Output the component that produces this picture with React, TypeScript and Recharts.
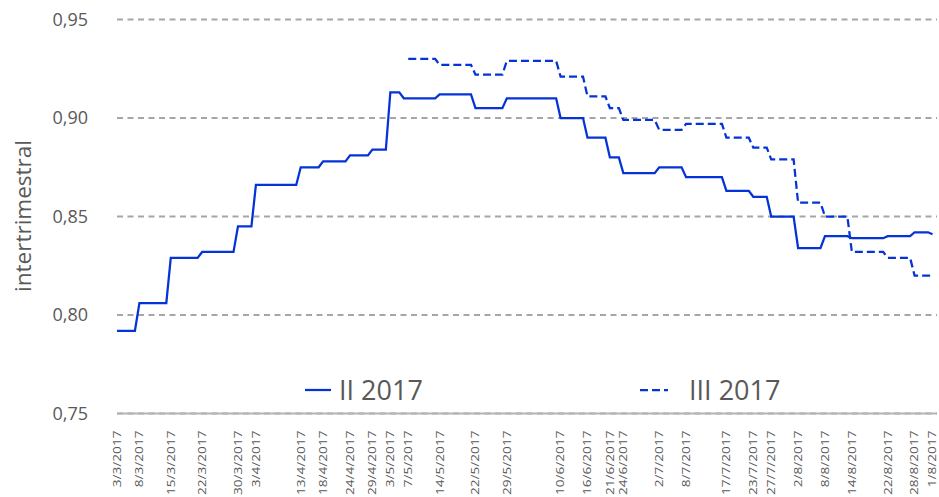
import { LineChart, Line, XAxis, YAxis, CartesianGrid, Legend } from "recharts";

// II 2017 - vertices of the step line (start of each level and its last day)
const iiDates = [
  "3/3/2017", "7/3/2017", "8/3/2017", "14/3/2017", "15/3/2017", "21/3/2017",
  "22/3/2017", "29/3/2017", "30/3/2017", "2/4/2017", "3/4/2017", "12/4/2017",
  "13/4/2017", "17/4/2017", "18/4/2017", "23/4/2017", "24/4/2017", "28/4/2017",
  "29/4/2017", "2/5/2017", "3/5/2017", "5/5/2017", "6/5/2017", "13/5/2017",
  "14/5/2017", "21/5/2017", "22/5/2017", "28/5/2017", "29/5/2017", "9/6/2017",
  "10/6/2017", "15/6/2017", "16/6/2017", "20/6/2017", "21/6/2017", "23/6/2017",
  "24/6/2017", "1/7/2017", "2/7/2017", "7/7/2017", "8/7/2017", "16/7/2017",
  "17/7/2017", "22/7/2017", "23/7/2017", "26/7/2017", "27/7/2017", "1/8/2017",
  "2/8/2017", "7/8/2017", "8/8/2017", "13/8/2017", "14/8/2017", "21/8/2017",
  "22/8/2017", "27/8/2017", "28/8/2017", "31/8/2017", "1/9/2017",
];
const iiValues = [
  0.792, 0.792, 0.806, 0.806, 0.829, 0.829,
  0.832, 0.832, 0.845, 0.845, 0.866, 0.866,
  0.875, 0.875, 0.878, 0.878, 0.881, 0.881,
  0.884, 0.884, 0.913, 0.913, 0.91, 0.91,
  0.912, 0.912, 0.905, 0.905, 0.91, 0.91,
  0.9, 0.9, 0.89, 0.89, 0.88, 0.88,
  0.872, 0.872, 0.875, 0.875, 0.87, 0.87,
  0.863, 0.863, 0.86, 0.86, 0.85, 0.85,
  0.834, 0.834, 0.84, 0.84, 0.839, 0.839,
  0.84, 0.84, 0.842, 0.842, 0.841,
];

// III 2017
const iiiDates = [
  "7/5/2017", "13/5/2017", "14/5/2017", "21/5/2017", "22/5/2017", "28/5/2017",
  "29/5/2017", "9/6/2017", "10/6/2017", "15/6/2017", "16/6/2017", "20/6/2017",
  "21/6/2017", "23/6/2017", "24/6/2017", "1/7/2017", "2/7/2017", "7/7/2017",
  "8/7/2017", "16/7/2017", "17/7/2017", "22/7/2017", "23/7/2017", "26/7/2017",
  "27/7/2017", "1/8/2017", "2/8/2017", "7/8/2017", "8/8/2017", "13/8/2017",
  "14/8/2017", "21/8/2017", "22/8/2017", "27/8/2017", "28/8/2017", "1/9/2017",
];
const iiiValues = [
  0.93, 0.93, 0.927, 0.927, 0.922, 0.922,
  0.929, 0.929, 0.921, 0.921, 0.911, 0.911,
  0.905, 0.905, 0.899, 0.899, 0.894, 0.894,
  0.897, 0.897, 0.89, 0.89, 0.885, 0.885,
  0.879, 0.879, 0.857, 0.857, 0.85, 0.85,
  0.832, 0.832, 0.829, 0.829, 0.82, 0.82,
];

const tickDates = [
  "3/3/2017", "8/3/2017", "15/3/2017", "22/3/2017", "30/3/2017", "3/4/2017",
  "13/4/2017", "18/4/2017", "24/4/2017", "29/4/2017", "3/5/2017", "7/5/2017",
  "14/5/2017", "22/5/2017", "29/5/2017", "10/6/2017", "16/6/2017", "21/6/2017",
  "24/6/2017", "2/7/2017", "8/7/2017", "17/7/2017", "23/7/2017", "27/7/2017",
  "2/8/2017", "8/8/2017", "14/8/2017", "22/8/2017", "28/8/2017", "1/9/2017",
];
const tickLabels = [
  "3/3/2017", "8/3/2017", "15/3/2017", "22/3/2017", "30/3/2017", "3/4/2017",
  "13/4/2017", "18/4/2017", "24/4/2017", "29/4/2017", "3/5/2017", "7/5/2017",
  "14/5/2017", "22/5/2017", "29/5/2017", "10/6/2017", "16/6/2017", "21/6/2017",
  "24/6/2017", "2/7/2017", "8/7/2017", "17/7/2017", "23/7/2017", "27/7/2017",
  "2/8/2017", "8/8/2017", "14/8/2017", "22/8/2017", "28/8/2017", "1/8/2017",
];
const yTicks = [0.75, 0.8, 0.85, 0.9, 0.95];

const BLUE = "#0433d6";
const GREY_TEXT = "#595959";
const GRID = "#a6a6a6";
const FONT = "'Open Sans', sans-serif";

// days since 3/3/2017
const dayOf = (s: string) => {
  const [d, m, y] = s.split("/").map(Number);
  return Math.round((Date.UTC(y, m - 1, d) - Date.UTC(2017, 2, 3)) / 86400000);
};

const rowMap: Record<number, any> = {};
iiDates.forEach((d, i) => {
  const k = dayOf(d);
  rowMap[k] = { ...(rowMap[k] || { day: k }), ii: iiValues[i] };
});
iiiDates.forEach((d, i) => {
  const k = dayOf(d);
  rowMap[k] = { ...(rowMap[k] || { day: k }), iii: iiiValues[i] };
});
const data = Object.values(rowMap).sort((a, b) => a.day - b.day);

const tickDays = tickDates.map(dayOf);

const DateTick = (props: any) => {
  const { x, y, payload } = props;
  const idx = tickDays.indexOf(payload.value);
  return (
    <text
      transform={`translate(${x},${y + 9}) rotate(-90) scale(1.3,1)`}
      textAnchor="end"
      dominantBaseline="central"
      fontSize={10.5}
      fontFamily={FONT}
      fill={GREY_TEXT}
    >
      {tickLabels[idx]}
    </text>
  );
};

const renderLegend = () => (
  <div style={{ position: "relative", width: 939, height: 32, fontFamily: FONT, fontSize: 27, color: GREY_TEXT }}>
    <svg width={30} height={32} style={{ position: "absolute", left: 303, top: 0 }}>
      <line x1={2} y1={16} x2={28} y2={16} stroke={BLUE} strokeWidth={2.25} />
    </svg>
    <span style={{ position: "absolute", left: 339, top: 0, lineHeight: "32px" }}>II 2017</span>
    <svg width={30} height={32} style={{ position: "absolute", left: 638, top: 0 }}>
      <line x1={2} y1={16} x2={30} y2={16} stroke={BLUE} strokeWidth={2.25} strokeDasharray="8 4" />
    </svg>
    <span style={{ position: "absolute", left: 689, top: 0, lineHeight: "32px" }}>III 2017</span>
  </div>
);

export default function App() {
  return (
    <div style={{ position: "absolute", left: 0, top: 0, background: "#fff" }}>
      <LineChart width={939} height={497} data={data} margin={{ top: 19.5, right: 2, bottom: 0, left: 0 }}>
        <CartesianGrid vertical={false} stroke={GRID} strokeWidth={2} strokeDasharray="6 4.5" />
        <XAxis
          type="number"
          dataKey="day"
          domain={[0, 183]}
          ticks={tickDays}
          interval={0}
          tick={<DateTick />}
          tickLine={false}
          axisLine={{ stroke: "#b4b4b4", strokeWidth: 2 }}
          height={83.5}
        />
        <YAxis
          type="number"
          domain={[0.75, 0.95]}
          ticks={yTicks}
          width={117}
          axisLine={false}
          tickLine={false}
          tickSize={0}
          tickMargin={29}
          tick={{ fill: GREY_TEXT, fontSize: 18, fontFamily: FONT }}
          tickFormatter={(v: number) => v.toFixed(2).replace(".", ",")}
          label={{
            content: () => (
              <text
                transform="translate(22,216) rotate(-90)"
                textAnchor="middle"
                dominantBaseline="central"
                fontSize={22.5}
                fontFamily={FONT}
                fill={GREY_TEXT}
              >
                intertrimestral
              </text>
            ),
          }}
        />
        <Legend
          layout="horizontal"
          verticalAlign="middle"
          align="center"
          content={renderLegend}
          wrapperStyle={{ top: 374, left: 0, width: 939 }}
        />
        <Line
          type="linear"
          dataKey="ii"
          name="II 2017"
          stroke={BLUE}
          strokeWidth={2.25}
          dot={false}
          connectNulls
          isAnimationActive={false}
        />
        <Line
          type="linear"
          dataKey="iii"
          name="III 2017"
          stroke={BLUE}
          strokeWidth={2.25}
          strokeDasharray="8 4"
          dot={false}
          connectNulls
          isAnimationActive={false}
        />
      </LineChart>
    </div>
  );
}
